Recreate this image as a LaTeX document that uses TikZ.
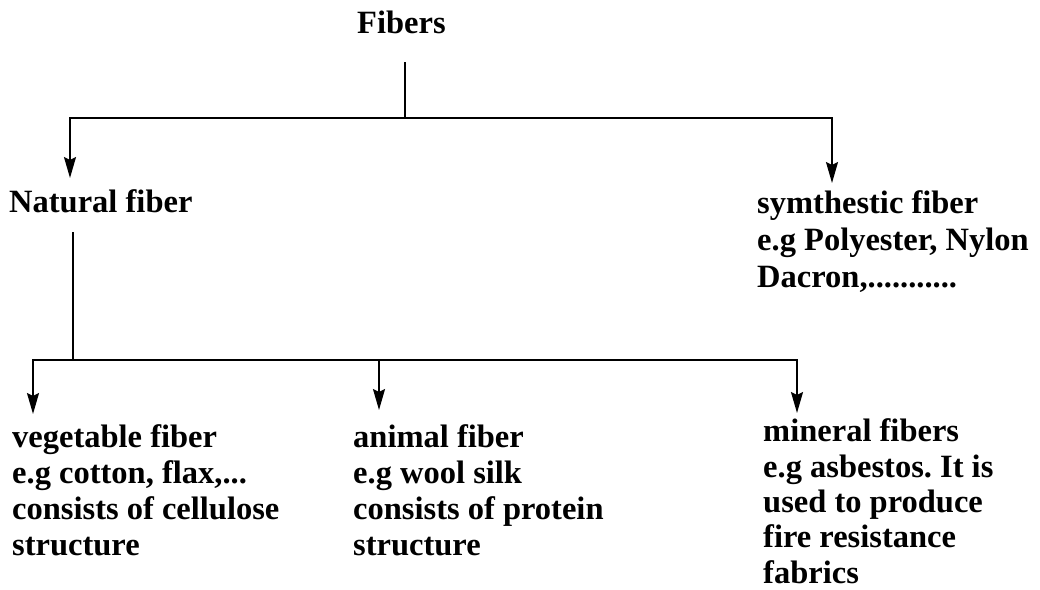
\documentclass[tikz,border=0pt]{standalone}
\usepackage{fontspec}
\setmainfont{Liberation Serif}
\usetikzlibrary{arrows.meta}
\frenchspacing
\begin{document}
\begin{tikzpicture}[x=1pt,y=-1pt,
  lbl/.style={anchor=base west,inner sep=0pt,align=left,
    font=\fontsize{32.5}{36}\selectfont\bfseries},
  conn/.style={line width=1.9pt},
  arr/.style={conn,-{Stealth[length=21pt,width=12pt,inset=3pt]}}]
\useasboundingbox (0,0) rectangle (1040,589);
% anchor base = baseline of the last line
\node[lbl] (fib) at (357,33) {Fibers};
\node[lbl] (nat) at (9,212) {Natural fiber};
\node[lbl,font=\fontsize{32.5}{37}\selectfont\bfseries] (syn) at (757,287) {symthestic fiber\\e.g Polyester, Nylon\\Dacron,...........};
\node[lbl] (veg) at (12,555) {vegetable fiber\\e.g cotton, flax,...\\consists of cellulose\\structure};
\node[lbl] (ani) at (353,555) {animal fiber\\e.g wool silk\\consists of protein\\structure};
\node[lbl,font=\fontsize{32.5}{35.3}\selectfont\bfseries] (min) at (763,583) {mineral fibers\\e.g asbestos. It is\\used to produce\\fire resistance\\fabrics};
% junctions and tips
\coordinate (f0) at (405,62);
\coordinate (f1) at (405,118);
\coordinate (tnat) at (70,178);
\coordinate (tsyn) at (832,183);
\coordinate (n0) at (73,232);
\coordinate (n1) at (73,360);
\coordinate (tveg) at (33,414);
\coordinate (tani) at (379,410);
\coordinate (tmin) at (797,413);
\draw[conn] (f0) -- (f1);
\draw[arr] (f1) -| (tnat);
\draw[arr] (f1) -| (tsyn);
\draw[conn] (n0) -- (n1);
\draw[arr] (n1) -| (tveg);
\draw[arr] (n1 -| tani) -- (tani);
\draw[arr] (n1) -| (tmin);
\end{tikzpicture}
\end{document}
